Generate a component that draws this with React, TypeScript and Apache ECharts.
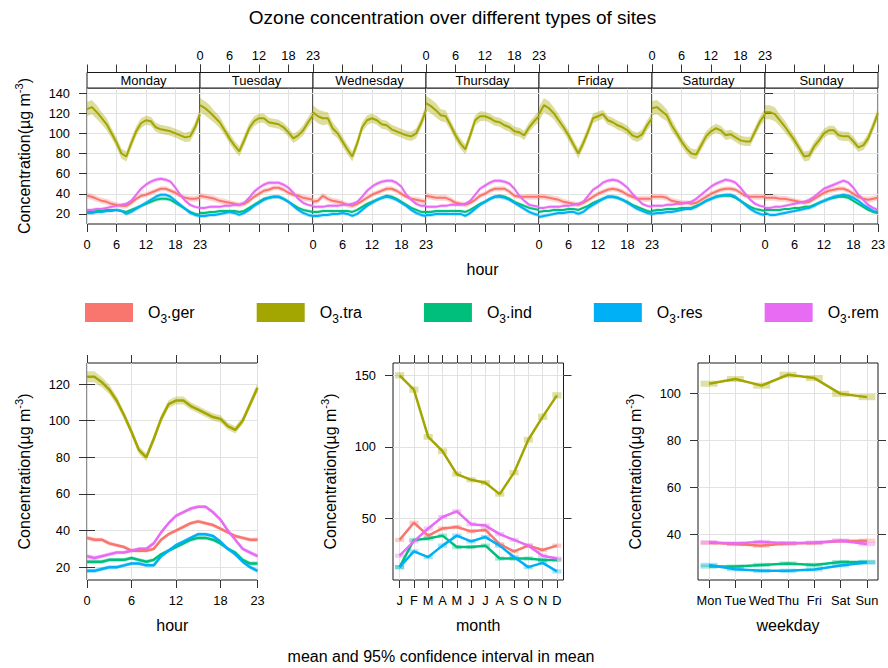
import { useEffect, useRef } from "react";
import * as echarts from "echarts";

const FONT = '"Liberation Sans", Arial, Helvetica, sans-serif';

// Site types, their legend labels and colours
const siteLabels = ["O3.ger", "O3.tra", "O3.ind", "O3.res", "O3.rem"];
const siteColors = ["#F8766D", "#A3A500", "#00BF7D", "#00B0F6", "#E76BF3"];

const dayNames = ["Monday", "Tuesday", "Wednesday", "Thursday", "Friday", "Saturday", "Sunday"];
const hours = [0, 1, 2, 3, 4, 5, 6, 7, 8, 9, 10, 11, 12, 13, 14, 15, 16, 17, 18, 19, 20, 21, 22, 23];
const hourTicks = [0, 6, 12, 18, 23];
const topConcTicks = [20, 40, 60, 80, 100, 120, 140];
const hourConcTicks = [20, 40, 60, 80, 100, 120];
const monthConcTicks = [50, 100, 150];
const weekConcTicks = [40, 60, 80, 100];
const monthIndex = [1, 2, 3, 4, 5, 6, 7, 8, 9, 10, 11, 12];
const monthLabels = ["J", "F", "M", "A", "M", "J", "J", "A", "S", "O", "N", "D"];
const weekdayIndex = [1, 2, 3, 4, 5, 6, 7];
const weekdayLabels = ["Mon", "Tue", "Wed", "Thu", "Fri", "Sat", "Sun"];

// Hourly means for each weekday (rows: Monday .. Sunday), µg m-3
const dayHourGer = [
  [38, 37, 35, 33, 32, 30, 29, 28, 28, 31, 35, 38, 39, 41, 43, 45, 45, 43, 41, 38, 36, 35, 35, 36],
  [38, 37, 36, 35, 33, 32, 31, 30, 29, 30, 33, 37, 40, 43, 44, 46, 46, 44, 41, 39, 38, 36, 35, 34],
  [32, 33, 38, 35, 33, 32, 31, 29, 28, 30, 33, 36, 39, 41, 43, 45, 45, 43, 40, 37, 35, 34, 33, 32],
  [38, 37, 36, 36, 36, 34, 31, 30, 29, 31, 34, 38, 40, 43, 45, 45, 45, 42, 38, 37, 37, 37, 37, 37],
  [37, 37, 36, 35, 34, 32, 31, 30, 29, 31, 34, 37, 40, 42, 44, 45, 44, 42, 39, 37, 35, 35, 35, 35],
  [37, 37, 37, 36, 33, 32, 31, 31, 30, 31, 34, 37, 40, 42, 44, 45, 45, 44, 41, 38, 37, 37, 37, 37],
  [36, 36, 36, 35, 35, 34, 33, 32, 31, 32, 35, 38, 41, 43, 44, 45, 45, 43, 40, 37, 35, 34, 35, 36],
];
const dayHourTra = [
  [124, 126, 121, 115, 109, 100, 91, 80, 77, 90, 102, 110, 113, 112, 106, 104, 103, 102, 100, 98, 96, 97, 106, 119],
  [128, 125, 121, 116, 111, 103, 95, 88, 82, 93, 105, 112, 115, 115, 111, 110, 109, 106, 101, 95, 98, 103, 111, 118],
  [121, 117, 115, 115, 105, 100, 92, 84, 77, 90, 106, 113, 115, 113, 109, 108, 104, 102, 100, 98, 97, 100, 110, 123],
  [130, 127, 123, 118, 117, 108, 98, 90, 84, 98, 113, 117, 117, 115, 112, 111, 108, 106, 102, 101, 98, 106, 112, 117],
  [119, 128, 125, 120, 113, 106, 98, 89, 80, 90, 102, 115, 117, 119, 113, 111, 108, 106, 103, 98, 96, 99, 108, 115],
  [125, 126, 122, 118, 108, 100, 92, 85, 80, 79, 88, 97, 102, 105, 103, 98, 99, 96, 93, 92, 92, 102, 112, 119],
  [121, 121, 119, 113, 107, 100, 93, 85, 77, 78, 87, 93, 100, 103, 103, 98, 97, 97, 92, 86, 88, 95, 107, 120],
];
const dayHourInd = [
  [22, 22, 23, 23, 24, 24, 24, 23, 22, 24, 26, 28, 30, 32, 34, 35, 35, 34, 31, 28, 25, 22, 20, 19],
  [21, 21, 22, 22, 23, 23, 23, 23, 22, 23, 26, 29, 32, 35, 36, 37, 37, 35, 32, 29, 26, 24, 23, 22],
  [22, 22, 23, 23, 23, 23, 23, 23, 22, 24, 27, 30, 32, 34, 36, 38, 37, 35, 32, 29, 26, 24, 22, 22],
  [22, 22, 23, 23, 23, 23, 23, 23, 22, 24, 27, 30, 32, 35, 37, 38, 37, 35, 32, 30, 28, 26, 25, 24],
  [22, 23, 23, 24, 24, 24, 25, 25, 24, 26, 28, 31, 33, 35, 37, 37, 36, 34, 32, 29, 27, 25, 23, 22],
  [23, 24, 24, 25, 25, 25, 26, 26, 26, 28, 30, 33, 35, 37, 38, 38, 38, 36, 33, 30, 27, 25, 24, 23],
  [24, 24, 24, 24, 25, 25, 26, 26, 27, 27, 29, 31, 33, 35, 36, 37, 37, 36, 33, 30, 27, 24, 22, 21],
];
const dayHourRes = [
  [21, 21, 22, 22, 23, 23, 24, 23, 20, 22, 25, 28, 31, 34, 37, 39, 39, 37, 33, 29, 25, 21, 19, 18],
  [18, 18, 19, 19, 20, 21, 22, 21, 19, 21, 24, 28, 31, 34, 36, 37, 37, 35, 32, 28, 24, 21, 19, 18],
  [18, 18, 19, 19, 20, 20, 21, 20, 18, 20, 24, 28, 31, 34, 36, 37, 36, 34, 31, 28, 24, 21, 19, 18],
  [19, 19, 20, 20, 20, 20, 20, 20, 18, 21, 25, 29, 32, 35, 37, 37, 36, 34, 31, 28, 25, 22, 20, 19],
  [17, 18, 19, 20, 21, 21, 22, 22, 20, 22, 26, 29, 32, 35, 37, 37, 36, 34, 31, 28, 25, 23, 21, 20],
  [20, 21, 21, 22, 22, 23, 24, 25, 25, 27, 30, 33, 35, 37, 38, 39, 39, 37, 33, 29, 25, 22, 20, 19],
  [21, 19, 19, 20, 21, 22, 23, 24, 25, 26, 28, 31, 33, 35, 37, 38, 39, 38, 36, 33, 29, 26, 23, 22],
];
const dayHourRem = [
  [24, 24, 25, 25, 26, 27, 28, 29, 30, 33, 39, 45, 49, 52, 54, 55, 54, 52, 46, 39, 33, 29, 27, 26],
  [26, 26, 27, 27, 27, 28, 28, 29, 29, 31, 36, 42, 46, 49, 51, 51, 51, 49, 46, 41, 35, 31, 29, 28],
  [27, 27, 27, 28, 28, 28, 29, 29, 30, 32, 37, 43, 47, 50, 52, 53, 53, 51, 47, 39, 34, 30, 28, 28],
  [27, 27, 27, 28, 28, 29, 29, 29, 30, 33, 39, 45, 48, 51, 53, 53, 52, 50, 45, 38, 33, 29, 28, 27],
  [26, 26, 27, 27, 27, 28, 28, 29, 30, 32, 38, 44, 47, 51, 53, 54, 53, 50, 46, 40, 35, 30, 28, 27],
  [28, 28, 28, 29, 29, 30, 30, 31, 32, 35, 39, 43, 47, 50, 52, 54, 53, 51, 46, 40, 34, 30, 28, 27],
  [26, 26, 27, 27, 28, 29, 30, 31, 32, 34, 37, 41, 45, 47, 49, 51, 53, 51, 46, 39, 34, 29, 26, 24],
];

// Half-width of the 95% confidence interval by hour (day-by-hour panels)
const ciDayGer = [3, 3, 3, 3, 3, 3, 2.5, 2.5, 2.5, 2.5, 2.5, 2.5, 2.5, 2.5, 2.5, 2.5, 2.5, 2.5, 2.5, 2.5, 2.5, 3, 3, 3];
const ciDayTra = [7, 7, 7, 6, 6, 5, 5, 5, 5, 5, 5, 5, 4.5, 4.5, 4.5, 4.5, 4.5, 4.5, 4.5, 4.5, 4.5, 5, 5, 6];
const ciDayInd = [1.6, 1.6, 1.5, 1.5, 1.5, 1.4, 1.4, 1.4, 1.5, 1.6, 1.7, 1.8, 1.8, 1.8, 1.8, 1.8, 1.8, 1.7, 1.7, 1.6, 1.6, 1.6, 1.6, 1.6];
const ciDayRes = [2, 2, 1.9, 1.8, 1.8, 1.7, 1.7, 1.8, 1.9, 2, 2, 2.1, 2.1, 2.1, 2.1, 2.1, 2.1, 2, 2, 2, 2, 2, 2, 2];
const ciDayRem = [1.7, 1.7, 1.6, 1.6, 1.6, 1.6, 1.6, 1.6, 1.7, 1.8, 1.9, 2, 2, 2, 2, 2, 2, 2, 1.9, 1.9, 1.8, 1.8, 1.7, 1.7];

// Overall hourly means
const hourGer = [36, 35, 35, 33, 32, 31, 29, 29, 29, 30, 35, 38, 40, 42, 44, 45, 44, 43, 41, 39, 37, 36, 35, 35];
const hourTra = [124, 124, 121, 117, 111, 103, 94, 84, 80, 90, 101, 109, 111, 111, 108, 106, 104, 102, 101, 97, 95, 100, 109, 118];
const hourInd = [23, 23, 23, 24, 24, 24, 25, 24, 23, 24, 27, 29, 31, 33, 35, 36, 36, 35, 33, 30, 28, 24, 22, 22];
const hourRes = [18, 18, 19, 20, 20, 21, 22, 22, 21, 21, 26, 29, 32, 34, 36, 38, 38, 37, 34, 30, 27, 23, 20, 18];
const hourRem = [26, 25, 26, 27, 28, 28, 29, 30, 30, 33, 39, 44, 48, 50, 52, 53, 53, 50, 46, 40, 35, 30, 28, 26];
const ciHourTra = [3, 3, 2.8, 2.6, 2.4, 2.2, 2.2, 2.2, 2.2, 2.2, 2.2, 2.2, 2.2, 2.2, 2, 2, 2, 2, 2, 2, 2, 2, 2.2, 2.5];
const ciHourLow = [1.2, 1.2, 1.1, 1.1, 1, 1, 1, 1, 1, 1, 1, 1, 1, 1, 1, 1, 1, 1, 1, 1, 1, 1, 1.1, 1.2];

// Monthly means
const monthGer = [35, 47, 38, 43, 44, 41, 42, 32, 27, 31, 28, 31];
const monthTra = [150, 140, 107, 97, 81, 77, 75, 67, 82, 105, 121, 136];
const monthInd = [16, 35, 36, 38, 30, 30, 31, 22, 22, 22, 21, 21];
const monthRes = [16, 27, 23, 31, 38, 34, 37, 31, 23, 16, 19, 13];
const monthRem = [24, 34, 43, 51, 55, 46, 45, 39, 35, 31, 24, 22];
const ciMonthTra = [2.2, 2.2, 2, 2, 1.8, 1.8, 1.8, 1.8, 1.8, 2, 2.2, 2.2];
const ciMonthLow = [1.5, 1.5, 1.5, 1.5, 1.5, 1.5, 1.5, 1.5, 1.5, 1.5, 1.5, 1.5];

// Weekday means
const weekGer = [36.4, 35.9, 35.2, 36.1, 36.3, 37.2, 37.3];
const weekTra = [104, 106, 103.2, 107.8, 106.4, 99.7, 98.3];
const weekInd = [26.3, 26.3, 27.0, 27.6, 27.0, 28.2, 28.3];
const weekRes = [27.0, 25.2, 24.5, 24.5, 25.1, 26.8, 28.0];
const weekRem = [36.6, 36.1, 36.8, 36.2, 36.5, 37.3, 35.9];
const ciWeekTra = [1.3, 1.3, 1.3, 1.3, 1.3, 1.3, 1.3];
const ciWeekLow = [0.9, 0.9, 0.9, 0.9, 0.9, 0.9, 0.9];

// ---- layout ----
const TOP_LEFT = 87;
const PANEL_W = 113;
const TOP_Y = 88;
const TOP_H = 136;
const STRIP_H = 15.5;
const TICK_LEN = 8;
const CI_RECT_HALF = 0.32;
const FRAME = "#1a1a1a";

const tickStyle = { show: true, length: TICK_LEN, inside: false, lineStyle: { color: "#333", width: 1 } };
const gridLineStyle = { lineStyle: { color: "#e2e2e2", width: 1 } };
const labelStyle = { color: "#000", fontSize: 12.8, fontFamily: FONT };
const yName = "{a|Concentration(µg m}{b|-3}{a|)}";
const yNameStyle = {
  fontFamily: FONT,
  color: "#000",
  rich: {
    a: { fontFamily: FONT, fontSize: 16, lineHeight: 22, color: "#000" },
    b: { fontFamily: FONT, fontSize: 11, lineHeight: 11, verticalAlign: "top", color: "#000" },
  },
};
const xNameStyle = { fontFamily: FONT, fontSize: 16, color: "#000" };

function xAx(gridIndex: number, position: string, min: number, max: number, ticks: number[], o: any = {}) {
  return {
    type: "value",
    gridIndex,
    position,
    min,
    max,
    offset: o.offset ?? 0,
    axisLine: { show: false },
    axisTick: { ...tickStyle, customValues: ticks },
    axisLabel: {
      show: !!o.labels,
      customValues: ticks,
      formatter: o.formatter,
      margin: o.margin ?? 14,
      ...labelStyle,
    },
    splitLine: { show: !!o.split, ...gridLineStyle },
    name: o.name ?? "",
    nameLocation: "middle",
    nameGap: 37,
    nameTextStyle: xNameStyle,
  };
}

function yAx(gridIndex: number, position: string, min: number, max: number, ticks: number[], o: any = {}) {
  return {
    type: "value",
    gridIndex,
    position,
    min,
    max,
    axisLine: { show: false },
    axisTick: { ...tickStyle, show: o.ticks !== false, customValues: ticks },
    axisLabel: { show: !!o.labels, customValues: ticks, margin: 17, ...labelStyle },
    splitLine: { show: !!o.split, ...gridLineStyle },
    name: o.labels ? yName : "",
    nameLocation: "middle",
    nameGap: 52,
    nameTextStyle: yNameStyle,
  };
}

function bandSeries(name: string, color: string, alpha: number, xi: number, yi: number, xs: number[], mean: number[], half: number[]) {
  const lo = mean.map((v, k) => v - half[k]);
  const hi = mean.map((v, k) => v + half[k]);
  return {
    type: "custom",
    name,
    xAxisIndex: xi,
    yAxisIndex: yi,
    silent: true,
    clip: true,
    z: 1,
    data: xs.map((x, k) => [x, lo[k], hi[k]]),
    encode: { x: 0, y: [1, 2] },
    itemStyle: { color },
    renderItem: (params: any, api: any) => {
      if (params.dataIndex !== 0) return null;
      const upper = xs.map((x, k) => api.coord([x, hi[k]]));
      const lower = xs.map((x, k) => api.coord([x, lo[k]])).reverse();
      return {
        type: "polygon",
        shape: { points: upper.concat(lower) },
        style: { fill: color, opacity: alpha },
      };
    },
  };
}

function ciRectSeries(name: string, color: string, alpha: number, xi: number, yi: number, xs: number[], mean: number[], half: number[]) {
  return {
    type: "custom",
    name,
    xAxisIndex: xi,
    yAxisIndex: yi,
    silent: true,
    clip: true,
    z: 1,
    data: xs.map((x, k) => [x, mean[k] - half[k], mean[k] + half[k]]),
    encode: { x: 0, y: [1, 2] },
    itemStyle: { color },
    renderItem: (_params: any, api: any) => {
      const x = api.value(0) as number;
      const a = api.coord([x - CI_RECT_HALF, api.value(2)]);
      const b = api.coord([x + CI_RECT_HALF, api.value(1)]);
      return {
        type: "rect",
        shape: { x: a[0], y: a[1], width: b[0] - a[0], height: b[1] - a[1] },
        style: { fill: color, opacity: alpha },
      };
    },
  };
}

function lineSeries(name: string, color: string, width: number, xi: number, yi: number, xs: number[], ys: number[]) {
  return {
    type: "line",
    name,
    xAxisIndex: xi,
    yAxisIndex: yi,
    data: xs.map((x, k) => [x, ys[k]]),
    showSymbol: false,
    symbol: "none",
    silent: true,
    z: 3,
    lineStyle: { color, width },
    itemStyle: { color },
    emphasis: { disabled: true },
  };
}

function buildOption() {
  const dayHour = [dayHourGer, dayHourTra, dayHourInd, dayHourRes, dayHourRem];
  const ciDay = [ciDayGer, ciDayTra, ciDayInd, ciDayRes, ciDayRem];
  const hourMeans = [hourGer, hourTra, hourInd, hourRes, hourRem];
  const hourCi = [ciHourLow, ciHourTra, ciHourLow, ciHourLow, ciHourLow];
  const monthMeans = [monthGer, monthTra, monthInd, monthRes, monthRem];
  const monthCi = [ciMonthLow, ciMonthTra, ciMonthLow, ciMonthLow, ciMonthLow];
  const weekMeans = [weekGer, weekTra, weekInd, weekRes, weekRem];
  const weekCi = [ciWeekLow, ciWeekTra, ciWeekLow, ciWeekLow, ciWeekLow];

  const grids: any[] = [];
  const xAxes: any[] = [];
  const yAxes: any[] = [];
  const series: any[] = [];
  const graphics: any[] = [];

  const gridBase = {
    show: true,
    borderColor: FRAME,
    borderWidth: 1,
    backgroundColor: "transparent",
    containLabel: false,
    outerBoundsMode: "none",
  };

  // Day-by-hour panels
  dayNames.forEach((day, i) => {
    const left = TOP_LEFT + i * PANEL_W;
    grids.push({ ...gridBase, left, top: TOP_Y, width: PANEL_W, height: TOP_H });
    xAxes.push(
      xAx(i, "bottom", 0, 23, hourTicks, {
        labels: i % 2 === 0,
        split: true,
        name: i === 3 ? "hour" : "",
      })
    );
    xAxes.push(xAx(i, "top", 0, 23, hourTicks, { labels: i % 2 === 1, offset: STRIP_H, margin: 11 }));
    yAxes.push(
      yAx(i, i === 6 ? "right" : "left", 10, 145, topConcTicks, {
        labels: i === 0,
        ticks: i === 0 || i === 6,
        split: true,
      })
    );
    graphics.push({
      type: "rect",
      shape: { x: left, y: TOP_Y - STRIP_H, width: PANEL_W, height: STRIP_H },
      style: { fill: "#fff", stroke: FRAME, lineWidth: 1 },
      z: 10,
    });
    graphics.push({
      type: "text",
      x: left + PANEL_W / 2,
      y: TOP_Y - STRIP_H / 2,
      style: { text: day, fontSize: 13, fontFamily: FONT, fill: "#000", align: "center", verticalAlign: "middle" },
      z: 11,
    });
    siteLabels.forEach((name, s) => {
      series.push(bandSeries(name, siteColors[s], s === 1 ? 0.38 : 0.3, 2 * i, i, hours, dayHour[s][i], ciDay[s]));
    });
    siteLabels.forEach((name, s) => {
      series.push(lineSeries(name, siteColors[s], 2, 2 * i, i, hours, dayHour[s][i]));
    });
  });

  // Hour panel
  grids.push({ ...gridBase, left: 87, top: 363, width: 170.5, height: 217 });
  xAxes.push(xAx(7, "bottom", 0, 23, hourTicks, { labels: true, split: true, name: "hour" }));
  xAxes.push(xAx(7, "top", 0, 23, hourTicks, {}));
  yAxes.push(yAx(7, "left", 13, 131.5, hourConcTicks, { labels: true, split: true }));
  yAxes.push(yAx(7, "right", 13, 131.5, hourConcTicks, {}));
  siteLabels.forEach((name, s) => {
    series.push(bandSeries(name, siteColors[s], 0.35, 14, 7, hours, hourMeans[s], hourCi[s]));
    series.push(lineSeries(name, siteColors[s], 2.5, 14, 7, hours, hourMeans[s]));
  });

  // Month panel
  grids.push({ ...gridBase, left: 393, top: 363, width: 170.5, height: 217 });
  xAxes.push(
    xAx(8, "bottom", 0.54, 12.46, monthIndex, {
      labels: true,
      split: true,
      name: "month",
      formatter: (v: number) => monthLabels[Math.round(v) - 1],
    })
  );
  xAxes.push(xAx(8, "top", 0.54, 12.46, monthIndex, {}));
  yAxes.push(yAx(8, "left", 7, 158.6, monthConcTicks, { labels: true, split: true }));
  yAxes.push(yAx(8, "right", 7, 158.6, monthConcTicks, {}));
  siteLabels.forEach((name, s) => {
    series.push(ciRectSeries(name, siteColors[s], 0.35, 16, 9, monthIndex, monthMeans[s], monthCi[s]));
    series.push(lineSeries(name, siteColors[s], 2.5, 16, 9, monthIndex, monthMeans[s]));
  });

  // Weekday panel
  grids.push({ ...gridBase, left: 698, top: 363, width: 180, height: 217 });
  xAxes.push(
    xAx(9, "bottom", 0.58, 7.42, weekdayIndex, {
      labels: true,
      split: true,
      name: "weekday",
      formatter: (v: number) => weekdayLabels[Math.round(v) - 1],
    })
  );
  xAxes.push(xAx(9, "top", 0.58, 7.42, weekdayIndex, {}));
  yAxes.push(yAx(9, "left", 20.6, 112.8, weekConcTicks, { labels: true, split: true }));
  yAxes.push(yAx(9, "right", 20.6, 112.8, weekConcTicks, {}));
  siteLabels.forEach((name, s) => {
    series.push(ciRectSeries(name, siteColors[s], 0.35, 18, 11, weekdayIndex, weekMeans[s], weekCi[s]));
    series.push(lineSeries(name, siteColors[s], 2.5, 18, 11, weekdayIndex, weekMeans[s]));
  });

  graphics.push({
    type: "text",
    x: 452.5,
    y: 17,
    style: {
      text: "Ozone concentration over different types of sites",
      fontSize: 19,
      fontFamily: FONT,
      fill: "#000",
      align: "center",
      verticalAlign: "middle",
    },
  });
  graphics.push({
    type: "text",
    x: 441,
    y: 656,
    style: {
      text: "mean and 95% confidence interval in mean",
      fontSize: 16,
      fontFamily: FONT,
      fill: "#000",
      align: "center",
      verticalAlign: "middle",
    },
  });

  return {
    animation: false,
    backgroundColor: "#fff",
    textStyle: { fontFamily: FONT },
    grid: grids,
    xAxis: xAxes,
    yAxis: yAxes,
    series,
    graphic: graphics,
    legend: {
      left: 80,
      top: 298,
      orient: "horizontal",
      icon: "rect",
      itemWidth: 48,
      itemHeight: 19,
      itemGap: 62,
      selectedMode: false,
      itemStyle: { borderWidth: 0 },
      data: siteLabels.map((n, k) => ({ name: n, itemStyle: { color: siteColors[k] } })),
      formatter: (n: string) => `{o|O}{s|3}{t|${n.slice(2)}}`,
      textStyle: {
        color: "#000",
        fontFamily: FONT,
        fontSize: 16,
        padding: [0, 0, 0, 10],
        rich: {
          o: { fontFamily: FONT, fontSize: 16, lineHeight: 24, color: "#000" },
          t: { fontFamily: FONT, fontSize: 16, lineHeight: 24, color: "#000" },
          s: { fontFamily: FONT, fontSize: 12, lineHeight: 12, verticalAlign: "bottom", color: "#000" },
        },
      },
    },
  };
}

export default function App() {
  const ref = useRef<HTMLDivElement>(null);
  useEffect(() => {
    if (!ref.current) return;
    const chart = echarts.init(ref.current, null, { renderer: "svg" });
    chart.setOption(buildOption() as any);
    return () => chart.dispose();
  }, []);
  return (
    <div
      ref={ref}
      style={{ position: "absolute", left: 0, top: 0, width: 888, height: 668, background: "#fff" }}
    />
  );
}
